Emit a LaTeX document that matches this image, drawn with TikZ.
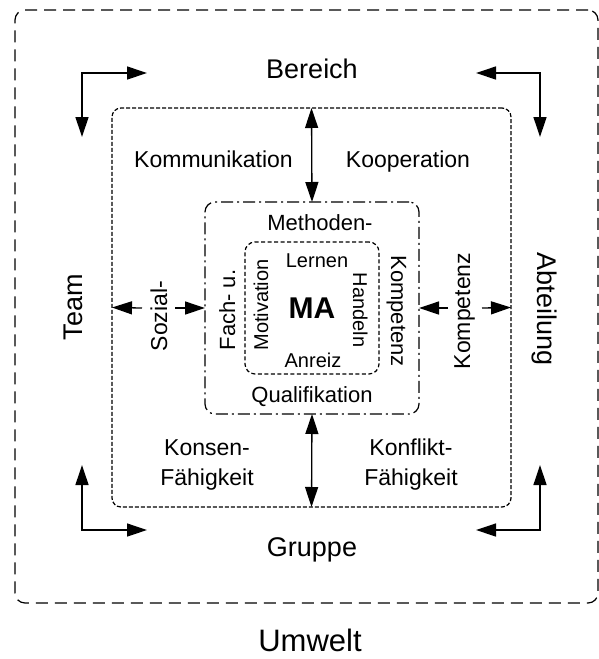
\documentclass[tikz,border=0pt]{standalone}
\usepackage{fontspec}
\setmainfont{Liberation Sans}
\usetikzlibrary{arrows.meta}
\begin{document}
\begin{tikzpicture}[x=1pt,y=-1pt,
  frame/.style={draw, line width=1.2pt, rounded corners=10pt, inner sep=0pt, outer sep=0pt},
  umweltframe/.style={frame, dash pattern=on 12pt off 7pt},
  teamframe/.style={frame, rounded corners=9pt, dash pattern=on 4pt off 2pt},
  kompframe/.style={frame, dash pattern=on 12pt off 4pt on 2pt off 4pt},
  selfframe/.style={frame, dash pattern=on 4pt off 2.5pt},
  link/.style={line width=1.3pt, {Triangle[length=20pt,width=13pt]}-{Triangle[length=20pt,width=13pt]}},
  half/.style={line width=1.3pt, -{Triangle[length=20pt,width=13pt]}},
  txt/.style={inner sep=0pt, anchor=base},
  huge/.style={txt, font=\fontsize{27pt}{32pt}\selectfont},
  envtxt/.style={txt, font=\fontsize{31pt}{36pt}\selectfont},
  midtxt/.style={txt, align=center, font=\fontsize{23pt}{30pt}\selectfont},
  ddtxt/.style={txt, font=\fontsize{22pt}{26pt}\selectfont},
  coretxt/.style={txt, font=\fontsize{20pt}{24pt}\selectfont},
  matxt/.style={txt, font=\fontsize{30pt}{36pt}\selectfont\bfseries}
]
\useasboundingbox (0,0) rectangle (599,659);

% nested frames
\node[umweltframe, minimum width=583pt, minimum height=593pt] (umw) at (306.5,306.5) {};
\node[teamframe,   minimum width=399pt, minimum height=399pt] (mid) at (311.5,307.5) {};
\node[kompframe,   minimum width=214pt, minimum height=212pt] (dd)  at (312,308) {};
\node[selfframe,   minimum width=134pt, minimum height=132pt] (core) at (312,308) {};

% outer labels
\node[huge] (bereich) at (312,78) {Bereich};
\node[huge] (gruppe) at (312,556) {Gruppe};
\node[huge, rotate=90] (team) at (82,307) {Team};
\node[huge, rotate=-90] (abt) at (537,309) {Abteilung};
\node[envtxt] (umwelt) at (310,651) {Umwelt};

% middle ring labels
\node[midtxt] (komm) at (213.5,167) {Kommunikation};
\node[midtxt] (koop) at (408,167) {Kooperation};
\node[midtxt] (konsens) at (207,485) {Konsen-\\Fähigkeit};
\node[midtxt] (konflikt) at (411,485) {Konflikt-\\Fähigkeit};
\node[midtxt, rotate=90] (sozial) at (167,316) {Sozial-};
\node[midtxt, rotate=90] (kompo) at (470,311) {Kompetenz};

% competence ring labels
\node[ddtxt] (meth) at (320,230) {Methoden-};
\node[ddtxt] (quali) at (312,402) {Qualifikation};
\node[ddtxt, rotate=90] (fach) at (235,310) {Fach- u.};
\node[ddtxt, rotate=-90] (kompi) at (391,311) {Kompetenz};

% core labels
\node[coretxt] (lernen) at (317,267) {Lernen};
\node[coretxt] (anreiz) at (313,367) {Anreiz};
\node[coretxt, rotate=90] (motiv) at (268,305) {Motivation};
\node[coretxt, rotate=-90] (handeln) at (353,310) {Handeln};
\node[matxt] (ma) at (312,318) {MA};

% vertical links between rings
\draw[link] (mid.north) -- (dd.north);
\draw[link] (dd.south) -- (mid.south);

% horizontal links split by their labels
\coordinate (sozL) at (142,308);
\coordinate (sozR) at (175,308);
\coordinate (kompL) at (448,308);
\coordinate (kompR) at (482,308);
\draw[half] (sozL) -- (mid.west);
\draw[half] (sozR) -- (dd.west);
\draw[half] (kompL) -- (dd.east);
\draw[half] (kompR) -- (mid.east);

% corner arrows
\coordinate (nwH) at (147,73);
\coordinate (nwV) at (82,137);
\coordinate (neH) at (476,73);
\coordinate (neV) at (540,137);
\coordinate (swV) at (82,465);
\coordinate (swH) at (147,530);
\coordinate (seV) at (540,465);
\coordinate (seH) at (476,530);
\draw[link] (nwH) -| (nwV);
\draw[link] (neH) -| (neV);
\draw[link] (swH) -| (swV);
\draw[link] (seH) -| (seV);
\end{tikzpicture}
\end{document}
